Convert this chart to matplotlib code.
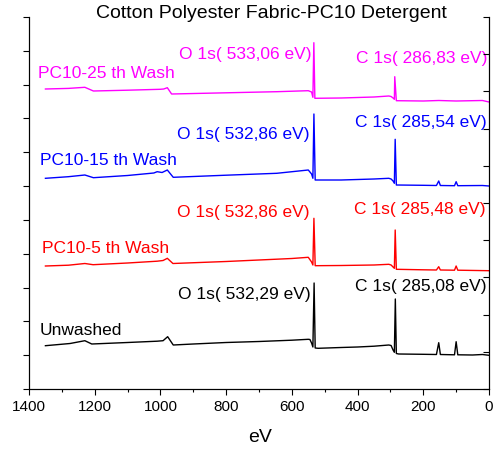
import matplotlib
matplotlib.use("Agg")
import matplotlib.pyplot as plt
from matplotlib.ticker import MultipleLocator, NullFormatter

plt.rcParams['font.family'] = ['Liberation Sans', 'DejaVu Sans']

# Survey spectra (binding energy in eV, intensity in arbitrary offset units)
unwashed_ev = [1350, 1275, 1230, 1209, 1100, 1010, 992, 978, 961, 900, 800,
               700, 600, 550, 545, 540, 536, 532.29, 529, 520, 450, 400, 350, 305, 298, 292,
               288, 285.08, 282, 275, 200, 160, 153, 148, 105, 100, 95, 50, 20, 0]
unwashed_int = [43.3, 45.5, 48.3, 45, 46.5, 47.8, 48.3, 52.3, 44, 45, 46.5,
                47.5, 48.8, 49.7, 49.5, 46, 42, 106, 41, 40.7, 41.5, 42, 42.8, 44, 43.5, 39,
                36.7, 90, 35.5, 35, 34.7, 34.5, 46.3, 34.5, 34.2, 47.3, 34.2, 34, 34.5, 33.7]

wash5_ev = [1350, 1280, 1230, 1205, 1100, 1010, 992, 979, 962, 800, 700,
            600, 550, 540, 536, 532.86, 529, 450, 350, 305, 298, 292, 288, 285.48, 282,
            200, 160, 153, 148, 105, 100, 95, 0]
wash5_int = [123, 123.8, 125.5, 124.3, 126, 127.8, 128.5, 130.7, 125.5, 127.5, 129,
             130.5, 131.7, 127, 124, 170.7, 123.3, 123.5, 124, 124.7, 124, 122, 120.7, 159, 119.7,
             119.2, 119, 122.3, 119, 118.8, 123, 118.8, 118.3]

wash15_ev = [1350, 1280, 1230, 1204, 1100, 1020, 1010, 995, 979, 961, 800, 646,
             550, 540, 536, 532.86, 529, 450, 350, 305, 298, 292, 288, 285.54, 282,
             200, 160, 153, 148, 105, 100, 95, 20, 0]
wash15_int = [210.7, 212.3, 214, 211.3, 213.5, 216, 217.3, 216.5, 219, 211.7, 213.8, 215.7,
              219, 215, 210.7, 275, 209, 209, 210, 210.7, 210, 208, 205.7, 249.7, 204,
              203.7, 203.5, 208, 203.5, 203.3, 207.3, 203.3, 203.5, 203]

wash25_ev = [1350, 1280, 1230, 1204, 1100, 1001, 990, 979, 966, 800, 646, 550,
             540, 536, 533.06, 530, 450, 350, 305, 298, 292, 288, 286.83, 282, 200, 153,
             100, 20, 0]
wash25_int = [300, 300.6, 301.7, 298, 298.8, 299.7, 300, 301.3, 295, 296.2, 297.3, 298.3,
              297, 291.7, 346.3, 290.7, 291, 292, 293, 292.5, 291, 289.7, 312.3, 288.3, 288, 288.5,
              288, 288.5, 287]

series_names = ["Unwashed", "PC10-5 th Wash", "PC10-15 th Wash", "PC10-25 th Wash"]
o1s_labels = ["O 1s( 532,29 eV)", "O 1s( 532,86 eV)", "O 1s( 532,86 eV)", "O 1s( 533,06 eV)"]
c1s_labels = ["C 1s( 285,08 eV)", "C 1s( 285,48 eV)", "C 1s( 285,54 eV)", "C 1s( 286,83 eV)"]
colors = ["black", "#FF0000", "#0000FF", "#FF00FF"]

x_ticks = [1400, 1200, 1000, 800, 600, 400, 200, 0]

fig = plt.figure(figsize=(4.95, 4.54), dpi=100)
ax = fig.add_axes([29 / 495, 65 / 454, 460 / 495, 372 / 454])

spectra = [(unwashed_ev, unwashed_int), (wash5_ev, wash5_int),
           (wash15_ev, wash15_int), (wash25_ev, wash25_int)]
for (ev, inten), c in zip(spectra, colors):
    ax.plot(ev, inten, color=c, lw=1.0)

ax.set_xlim(1400, 0)
ax.set_ylim(0, 372)
ax.set_xticks(x_ticks)
ax.set_xticklabels([str(t) for t in x_ticks])
ax.xaxis.set_minor_locator(MultipleLocator(100))
ax.set_yticks([372 * i / 11 for i in range(12)])
ax.yaxis.set_major_formatter(NullFormatter())
ax.tick_params(axis='x', which='major', direction='out', length=4, width=0.8,
               labelsize=11, pad=4)
ax.tick_params(axis='x', which='minor', direction='out', length=2.2, width=0.8)
ax.tick_params(axis='y', which='major', direction='out', length=4.3, width=0.8)
ax.spines['top'].set_visible(False)
for s in ['left', 'right', 'bottom']:
    ax.spines[s].set_linewidth(0.8)

ax2 = ax.twinx()
ax2.set_ylim(0, 372)
ax2.set_yticks([372 * i / 10 for i in range(11)])
ax2.yaxis.set_major_formatter(NullFormatter())
ax2.tick_params(axis='y', direction='in', length=4.5, width=0.8)
ax2.spines['top'].set_visible(False)
ax2.spines['right'].set_linewidth(0.8)

fs = 12.5
name_pos = [(1366.5, 58.3), (1360.4, 140.7), (1366.5, 228.3), (1372.6, 315)]
o_pos = [(541.7, 94), (547.8, 176.3), (547.8, 254), (541.7, 334)]
c_pos = [(9, 103), (12, 179.7), (6, 266), (6, 331)]
for i, c in enumerate(colors):
    ax.text(*name_pos[i], series_names[i], color=c, fontsize=fs, ha='left', va='center')
    ax.text(*o_pos[i], o1s_labels[i], color=c, fontsize=fs, ha='right', va='center')
    ax.text(*c_pos[i], c1s_labels[i], color=c, fontsize=fs, ha='right', va='center')

fig.text(271 / 495, 1 - 13 / 454, "Cotton Polyester Fabric-PC10 Detergent",
         fontsize=14, ha='center', va='center')
fig.text(260 / 495, 1 - 437 / 454, "eV", fontsize=14, ha='center', va='center')

fig.savefig("out.png", dpi=100)
